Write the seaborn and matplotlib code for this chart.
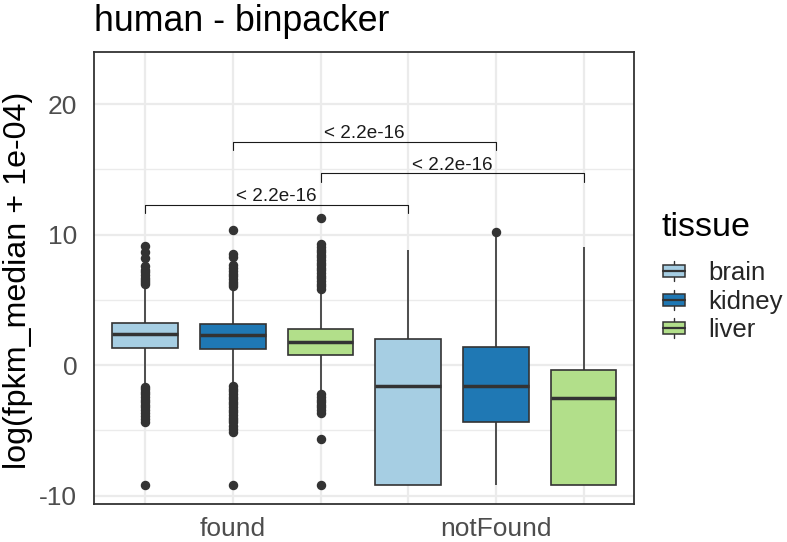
import numpy as np
import pandas as pd
import matplotlib
matplotlib.use('Agg')
import matplotlib.pyplot as plt
import seaborn as sns
from matplotlib.legend_handler import HandlerBase
from matplotlib.patches import Rectangle, Patch
from matplotlib.lines import Line2D

# categories
status = ['found', 'notFound']
tissues = ['brain', 'kidney', 'liver']
colors = ['#A6CEE3', '#1F78B4', '#B2DF8A']

# box summaries: whisker low, Q1, median, Q3, whisker high
found_brain = [-1.50, 1.28, 2.35, 3.20, 6.00]
found_kidney = [-1.50, 1.25, 2.30, 3.12, 5.85]
found_liver = [-2.10, 0.77, 1.79, 2.74, 5.60]
notfound_brain = [-9.21, -9.21, -1.59, 1.99, 8.81]
notfound_kidney = [-9.21, -4.39, -1.61, 1.40, 9.90]
notfound_liver = [-9.21, -9.21, -2.55, -0.38, 9.07]

# outlier points
found_brain_out = [9.15, 8.7, 8.2, 7.6, 7.3, 7.1, 6.9, 6.7, 6.5, 6.35, 6.2,
                   -1.65, -1.85, -2.05, -2.25, -2.45, -2.65, -2.85, -3.05, -3.25,
                   -3.45, -3.65, -3.9, -4.15, -4.35, -9.21]
found_kidney_out = [10.34, 8.55, 8.25, 7.7, 7.45, 7.2, 7.0, 6.8, 6.6, 6.4, 6.2, 6.05,
                    -1.62, -1.82, -2.02, -2.22, -2.42, -2.62, -2.82, -3.02, -3.22,
                    -3.42, -3.62, -3.82, -4.02, -4.2, -4.4, -4.65, -4.9, -5.1, -9.21]
found_liver_out = [11.24, 9.27, 9.05, 8.85, 8.65, 8.45, 8.25, 8.05, 7.85, 7.65, 7.45,
                   7.25, 7.05, 6.85, 6.65, 6.45, 6.25, 6.05, 5.85,
                   -2.25, -2.45, -2.65, -2.85, -3.05, -3.25, -3.45, -3.65, -5.7, -9.21]
notfound_brain_out = []
notfound_kidney_out = [10.21]
notfound_liver_out = []

# wilcoxon comparisons (found vs notFound per tissue)
p_labels = ['< 2.2e-16', '< 2.2e-16', '< 2.2e-16']
bracket_y = [12.26, 17.11, 14.69]

boxes = [
    ('found', 'brain', found_brain, found_brain_out),
    ('found', 'kidney', found_kidney, found_kidney_out),
    ('found', 'liver', found_liver, found_liver_out),
    ('notFound', 'brain', notfound_brain, notfound_brain_out),
    ('notFound', 'kidney', notfound_kidney, notfound_kidney_out),
    ('notFound', 'liver', notfound_liver, notfound_liver_out),
]

# expand each summary into a sample whose quartiles/whiskers match it
rows = []
for st, ts, summ, extra in boxes:
    lo, q1, med, q3, hi = summ
    vals = [lo] + [q1] * 40 + [med] * 40 + [q3] * 40 + [hi] + extra
    for v in vals:
        rows.append({'status': st, 'tissue': ts, 'value': v})
df = pd.DataFrame(rows)

sns.set_style('white')
plt.rcParams['font.family'] = ['Liberation Sans', 'DejaVu Sans']
plt.rcParams['axes.unicode_minus'] = False

fig = plt.figure(figsize=(7.87, 5.42), dpi=100)
ax = fig.add_axes([94 / 787, 38 / 542, 540 / 787, 452 / 542])

dark = '#333333'
sns.boxplot(data=df, x='status', y='value', hue='tissue', order=status,
            hue_order=tissues, palette=colors, saturation=1, width=1.0, gap=0.25,
            linecolor=dark, linewidth=1.2, fliersize=5.8,
            flierprops=dict(marker='o', markerfacecolor=dark, markeredgecolor=dark),
            medianprops=dict(linewidth=2.5, color=dark),
            showcaps=False, legend=False, ax=ax)

offsets = (np.arange(len(tissues)) - 1) / 3

# significance brackets
for i, (lab, yb) in enumerate(zip(p_labels, bracket_y)):
    x1 = 0 + offsets[i]
    x2 = 1 + offsets[i]
    tip = 0.64
    ax.plot([x1, x1, x2, x2], [yb - tip, yb, yb, yb - tip], color='#1a1a1a', lw=0.8)
    ax.text((x1 + x2) / 2, yb + 0.3, lab, ha='center', va='baseline',
            fontsize=13.6, color='#1a1a1a')

ax.set_xlim(-0.528, 1.525)
ax.set_ylim(-10.65, 24.0)
ax.set_xticks([0, 1])
ax.set_xticklabels(status)
ax.set_xticks([o + g for g in (0, 1) for o in offsets if o != 0], minor=True)
ax.set_yticks([-10, 0, 10, 20])
ax.set_yticks([-5, 5, 15], minor=True)
ax.tick_params(axis='both', which='both', length=0, labelsize=19, labelcolor='#4D4D4D')
ax.tick_params(axis='y', pad=12)
ax.tick_params(axis='x', pad=9)
ax.set_xlabel('')
ax.set_ylabel('')

ax.grid(True, which='major', color='#EBEBEB', lw=1.6)
ax.grid(True, which='minor', axis='y', color='#EBEBEB', lw=1.0)
ax.grid(True, which='minor', axis='x', color='#EBEBEB', lw=1.6)
ax.set_axisbelow(True)
for sp in ax.spines.values():
    sp.set_visible(True)
    sp.set_color(dark)
    sp.set_linewidth(1.3)

fig.text(94 / 787, 1 - 31 / 542, 'human - binpacker', fontsize=25.7,
         ha='left', va='baseline', color='black')
fig.text(18 / 787, 1 - 280 / 542, 'log(fpkm_median + 1e-04)', fontsize=23.2,
         rotation=90, ha='center', va='center', color='black')
fig.text(662 / 787, 1 - 236 / 542, 'tissue', fontsize=24.5,
         ha='left', va='baseline', color='black')


class BoxKey(HandlerBase):
    def create_artists(self, legend, orig_handle, xdescent, ydescent,
                       width, height, fontsize, trans):
        x0, y0 = -xdescent, -ydescent
        fc = orig_handle.get_facecolor()
        xm = x0 + width / 2
        wlo = Line2D([xm, xm], [y0, y0 + 0.2 * height], color=dark, lw=1.0, transform=trans)
        whi = Line2D([xm, xm], [y0 + 0.8 * height, y0 + height], color=dark, lw=1.0, transform=trans)
        box = Rectangle((x0, y0 + 0.2 * height), width, 0.6 * height,
                        facecolor=fc, edgecolor=dark, lw=1.1, transform=trans)
        med = Line2D([x0, x0 + width], [y0 + 0.5 * height] * 2, color=dark, lw=1.6, transform=trans)
        return [wlo, whi, box, med]


handles = [Patch(facecolor=c) for c in colors]
fig.legend(handles, tissues, handler_map={Patch: BoxKey()},
           loc='upper left', bbox_to_anchor=(663 / 787, 1 - 261 / 542),
           frameon=False, fontsize=18.5,
           handlelength=0.85, handleheight=0.8, handletextpad=0.9,
           labelspacing=0.18, borderpad=0, borderaxespad=0)

fig.savefig('out.png', dpi=100)
